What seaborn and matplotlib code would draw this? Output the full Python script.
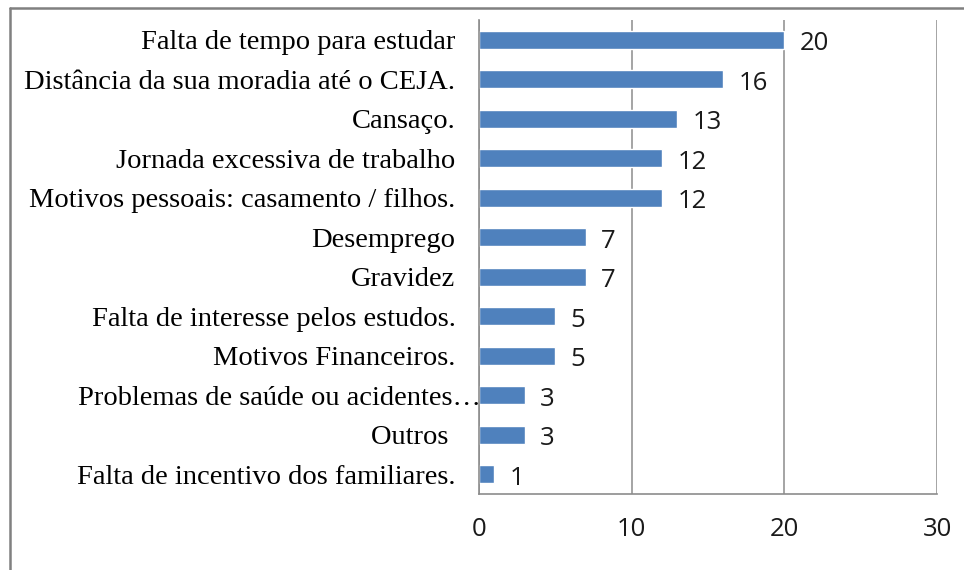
import matplotlib
matplotlib.use("Agg")
import matplotlib.pyplot as plt
from matplotlib.lines import Line2D
from matplotlib.ticker import FixedLocator
import seaborn as sb
import pandas as pd

# Data
motivos = [
    "Falta de tempo para estudar",
    "Distância da sua moradia até o CEJA.",
    "Cansaço.",
    "Jornada excessiva de trabalho",
    "Motivos pessoais: casamento / filhos.",
    "Desemprego",
    "Gravidez",
    "Falta de interesse pelos estudos.",
    "Motivos Financeiros.",
    "Problemas de saúde ou acidentes…",
    "Outros ",
    "Falta de incentivo dos familiares.",
]
quantidade = [20, 16, 13, 12, 12, 7, 7, 5, 5, 3, 3, 1]
eixo_x = [0, 10, 20, 30]

df = pd.DataFrame({"motivo": motivos, "qtd": quantidade})

sb.set_style("white")
plt.rcParams["font.family"] = ["Liberation Serif", "DejaVu Serif"]
sans = ["Open Sans", "DejaVu Sans"]

fig = plt.figure(figsize=(9.64, 5.7), dpi=100)
ax = fig.add_axes([479 / 964, 1 - 494 / 570, (937 - 479) / 964, (494 - 20) / 570])

sb.barplot(data=df, x="qtd", y="motivo", orient="h", color="#4F81BD",
           saturation=1, width=0.45, ax=ax)

grey = "#8c8c8c"

# value labels
rotulos = ax.bar_label(ax.containers[0], padding=11, fontsize=18.5,
                       family=sans, color="#1a1a1a")
for r in rotulos:
    r.xyann = (11, -3)

ax.set_xlim(0, 30)
ax.set_ylim(len(motivos) - 0.5, -0.5)
ax.set_xticks(eixo_x)
ax.set_xticklabels([str(v) for v in eixo_x], family=sans,
                   fontsize=18.5, color="#1a1a1a")
ax.tick_params(axis="x", direction="out", length=6.5, width=1.2, color=grey, pad=10)
ax.tick_params(axis="y", which="major", length=0, pad=17, labelsize=20.5, labelcolor="#000000")
ax.yaxis.set_minor_locator(FixedLocator([i - 0.5 for i in range(len(motivos) + 1)]))
ax.tick_params(axis="y", which="minor", direction="out", length=6, width=1.2, color=grey)

# the truncated label overflows towards the axis, as in the original
labels = ax.get_yticklabels()
labels[9].set_visible(False)
ax.annotate(motivos[9], xy=(0, 9), xytext=(1, 0), textcoords="offset points",
            ha="right", va="center_baseline", fontsize=20.5, color="#000000",
            annotation_clip=False)

ax.set_xlabel("")
ax.set_ylabel("")
ax.grid(axis="x", color=grey, linewidth=1.1)
ax.grid(axis="y", visible=False)
ax.set_axisbelow(True)

for s in ["top", "right"]:
    ax.spines[s].set_visible(False)
for s in ["left", "bottom"]:
    ax.spines[s].set_color(grey)
    ax.spines[s].set_linewidth(1.2)

# outer chart border (top and left edges visible)
fig.add_artist(Line2D([10 / 964, 1], [1 - 8 / 570, 1 - 8 / 570],
                      transform=fig.transFigure, color="#808080", linewidth=1.8))
fig.add_artist(Line2D([10 / 964, 10 / 964], [0, 1 - 8 / 570],
                      transform=fig.transFigure, color="#808080", linewidth=1.8))

fig.savefig("out.png", dpi=100)
